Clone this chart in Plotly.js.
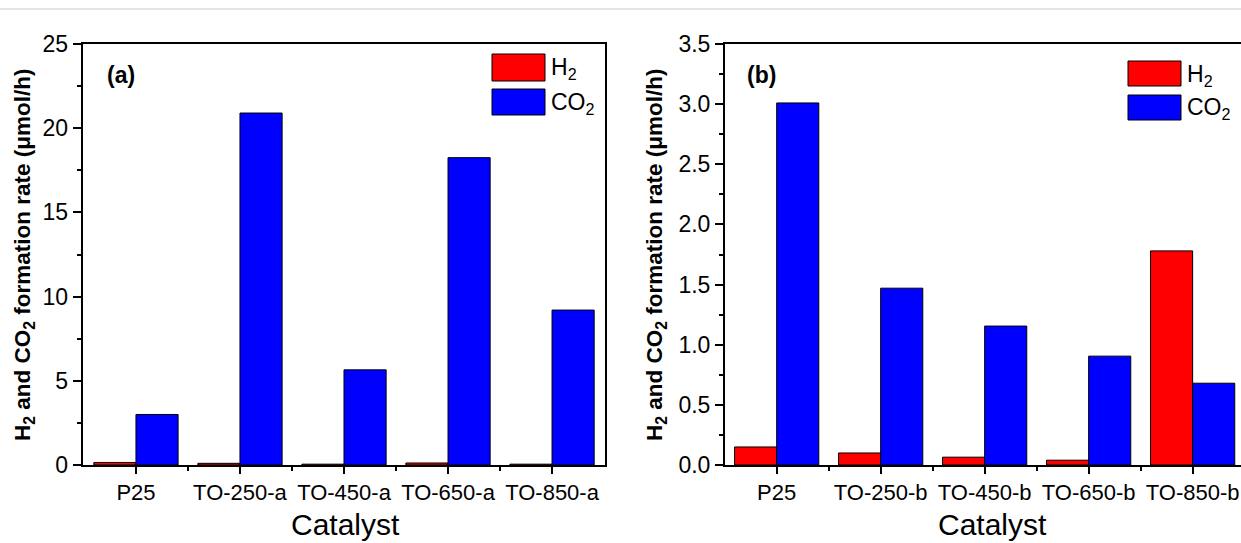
<!DOCTYPE html>
<html>
<head>
<meta charset="utf-8">
<script src="https://cdn.plot.ly/plotly-3.0.1.min.js"></script>
<style>html,body{margin:0;padding:0;background:#fff;}#chart{width:1241px;height:543px;}</style>
</head>
<body>
<div id="chart"></div>
<script>
// ---- data ----
const categoriesA = ['P25', 'TO-250-a', 'TO-450-a', 'TO-650-a', 'TO-850-a'];
const h2A  = [0.15, 0.10, 0.05, 0.12, 0.05];
const co2A = [3.0, 20.9, 5.65, 18.25, 9.2];

const categoriesB = ['P25', 'TO-250-b', 'TO-450-b', 'TO-650-b', 'TO-850-b'];
const h2B  = [0.15, 0.10, 0.065, 0.04, 1.78];
const co2B = [3.01, 1.47, 1.155, 0.905, 0.68];

const seriesNames = ['H<sub>2</sub>', 'CO<sub>2</sub>'];
const yTitle = 'H<sub>2</sub> and CO<sub>2</sub> formation rate (μmol/h)';
const xTitle = 'Catalyst';

// ---- layout helpers ----
const W = 1241, H = 543, TOP = 44, BOT = 465;
const PH = BOT - TOP;
const px = x => x / W;
const py = y => (BOT - y) / PH;
const FONT = 'Liberation Sans, Arial, sans-serif';
const RED = '#ff0000', BLUE = '#0000ff';

const idxA = categoriesA.map((c, i) => i);
const idxB = categoriesB.map((c, i) => i);

function bar(x, y, color, xa, ya, name) {
  return {type: 'bar', x: x, y: y, name: name, xaxis: xa, yaxis: ya,
    marker: {color: color, line: {color: '#000', width: 1}}, showlegend: false,
    hoverinfo: 'x+y'};
}

const data = [
  bar(idxA, h2A, RED, 'x', 'y', seriesNames[0]),
  bar(idxA, co2A, BLUE, 'x', 'y', seriesNames[1]),
  bar(idxB, h2B, RED, 'x2', 'y2', seriesNames[0]),
  bar(idxB, co2B, BLUE, 'x2', 'y2', seriesNames[1])
];

function xAxis(domain, range, idx, cats, mirror) {
  return {domain: domain, range: range, tickmode: 'array', tickvals: idx, ticktext: cats,
    ticks: 'outside', ticklen: 7, tickwidth: 2, tickcolor: '#000',
    showline: true, linewidth: 2, linecolor: '#000', mirror: mirror,
    showgrid: false, zeroline: false, automargin: false,
    tickfont: {family: FONT, size: 22, color: '#000'},
    minor: {tickmode: 'array', tickvals: idx.slice(0, -1).map(i => i + 0.5),
      ticks: 'outside', ticklen: 4, tickwidth: 2, tickcolor: '#000', showgrid: false}};
}
function yAxis(range, dtick, fmt, mirror, anchor) {
  return {range: range, domain: [0, 1], anchor: anchor, tickmode: 'linear', tick0: 0, dtick: dtick,
    tickformat: fmt, ticks: 'outside', ticklen: 8, tickwidth: 2, tickcolor: '#000',
    showline: true, linewidth: 2, linecolor: '#000', mirror: mirror,
    showgrid: false, zeroline: false, automargin: false,
    tickfont: {family: FONT, size: 23, color: '#000'},
    minor: {tickmode: 'linear', tick0: dtick / 2, dtick: dtick, ticks: 'outside',
      ticklen: 4, tickwidth: 2, tickcolor: '#000', showgrid: false}};
}

const shapes = [
  {type: 'line', xref: 'paper', yref: 'paper', x0: 0, x1: 1, y0: py(9), y1: py(9),
   line: {color: '#e3e3e3', width: 2}}
];
function legendBox(x0, x1, y0, y1, color) {
  shapes.push({type: 'rect', xref: 'paper', yref: 'paper', x0: px(x0), x1: px(x1),
    y0: py(y1), y1: py(y0), fillcolor: color, line: {color: '#000', width: 1}});
}
// legend (a)
legendBox(492, 545, 54, 81, RED);
legendBox(492, 545, 89, 115, BLUE);
// legend (b)
legendBox(1128, 1181, 61, 86, RED);
legendBox(1128, 1181, 95, 120, BLUE);

const annotations = [];
function txt(x, y, text, size, opts) {
  annotations.push(Object.assign({xref: 'paper', yref: 'paper', x: px(x), y: py(y), text: text,
    showarrow: false, font: {family: FONT, size: size, color: '#000'},
    xanchor: 'center', yanchor: 'middle'}, opts || {}));
}
txt(549, 69, seriesNames[0], 23, {xanchor: 'left'});
txt(549, 103, seriesNames[1], 23, {xanchor: 'left'});
txt(1185, 75, seriesNames[0], 23, {xanchor: 'left'});
txt(1185, 109, seriesNames[1], 23, {xanchor: 'left'});
txt(121, 75, '<b>(a)</b>', 23);
txt(761, 75, '<b>(b)</b>', 23);
txt(345, 524, xTitle, 30);
txt(992, 524, xTitle, 30);
txt(24, 255, '<b>' + yTitle + '</b>', 22.5, {textangle: -90});
txt(656, 255, '<b>' + yTitle + '</b>', 22.5, {textangle: -90});

const layout = {
  width: W, height: H,
  margin: {l: 0, r: 0, t: TOP, b: H - BOT, pad: 0},
  paper_bgcolor: '#fff', plot_bgcolor: '#fff',
  barmode: 'group', bargap: 0.19, bargroupgap: 0,
  showlegend: false,
  font: {family: FONT, color: '#000'},
  xaxis: xAxis([px(82.7), px(605.3)], [-0.512, 4.512], idxA, categoriesA, true),
  yaxis: yAxis([0, 25], 5, 'd', true, 'x'),
  xaxis2: Object.assign(xAxis([px(725), 1], [-0.497, 4.465], idxB, categoriesB, true), {anchor: 'y2'}),
  yaxis2: yAxis([0, 3.5], 0.5, '.1f', false, 'x2'),
  shapes: shapes,
  annotations: annotations
};
layout.xaxis.anchor = 'y';

Plotly.newPlot('chart', data, layout, {displayModeBar: false, staticPlot: true});
</script>
</body>
</html>
